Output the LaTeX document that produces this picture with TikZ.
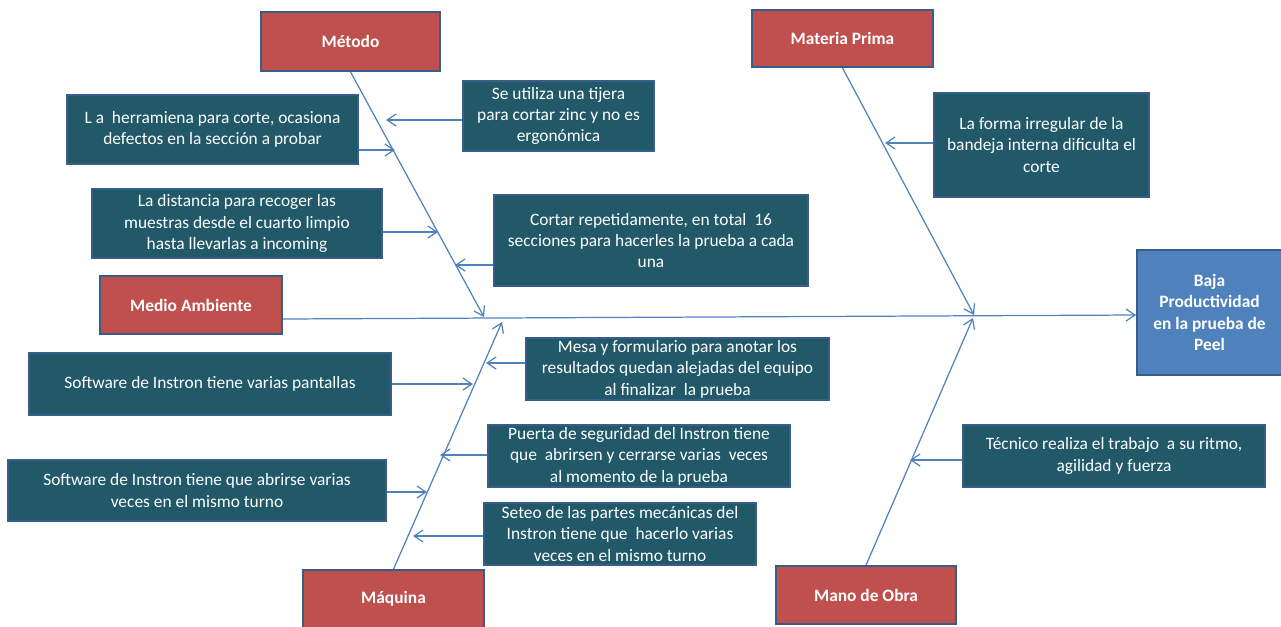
\documentclass[tikz,border=0pt]{standalone}
\usepackage{fontspec}
\setmainfont{Carlito}
\usepackage{tikz}
\usetikzlibrary{arrows.meta}
\definecolor{rojocausa}{HTML}{C0504D}
\definecolor{bordeazul}{HTML}{385D8A}
\definecolor{tealsub}{HTML}{215968}
\definecolor{azulefecto}{HTML}{4F81BD}
\definecolor{linea}{HTML}{4F81BD}
\newcommand{\letra}{\fontsize{9.9}{12.2}\selectfont}
\tikzstyle{causa} = [rectangle, minimum width = 3.6cm, minimum height = 1.16cm,
  text centered, draw = bordeazul, line width = 1pt, fill = rojocausa,
  text = white, font = \letra\bfseries]
\tikzstyle{subcausa} = [rectangle, minimum height = 1.24cm, inner ysep = 0pt,
  align = center, draw = bordeazul, line width = 1pt, fill = tealsub,
  text = white, font = \letra]
\tikzstyle{efecto} = [rectangle, minimum width = 2.9cm, minimum height = 2.5cm,
  align = center, draw = bordeazul, line width = 1pt, fill = azulefecto,
  text = white, font = \letra\bfseries]
\tikzstyle{flecha} = [draw = linea, line width = 0.7pt,
  -{Straight Barb[length = 1.8mm, width = 2.4mm]}]

\begin{document}
\begin{tikzpicture}[x = 0.02cm, y = -0.02cm]
  \useasboundingbox (0,0) rectangle (1281,626);

  % causas principales
  \node (metodo) [causa, minimum width = 3.58cm, minimum height = 1.18cm] at (350.5,41.5) {Método};
  \node (materia) [causa, minimum width = 3.62cm, minimum height = 1.14cm] at (842.5,38.5) {Materia Prima};
  \node (medio) [causa, minimum width = 3.64cm] at (191,305) {Medio Ambiente};
  \node (maquina) [causa, minimum width = 3.62cm] at (393.5,599) {Máquina};
  \node (mano) [causa] at (866,595) {Mano de Obra};
  \node (baja) [efecto] at (1209.5,312.5) {Baja\\Productividad\\en la prueba de\\Peel};

  % subcausas
  \node (herr) [subcausa, minimum width = 5.82cm, minimum height = 1.38cm] at (212.5,129.5)
    {L a\ \ herramiena para corte, ocasiona\\defectos en la sección a probar};
  \node (tijera) [subcausa, minimum width = 3.82cm, minimum height = 1.4cm] at (558.5,116)
    {Se utiliza una tijera\\para cortar zinc y no es\\ergonómica};
  \node (distancia) [subcausa, minimum width = 5.8cm, minimum height = 1.38cm] at (237,223.5)
    {La distancia para recoger las\\muestras desde el cuarto limpio\\hasta llevarlas a incoming};
  \node (cortar) [subcausa, minimum width = 6.28cm, minimum height = 1.82cm] at (651,240.5)
    {Cortar repetidamente, en total\ \ 16\\secciones para hacerles la prueba a cada\\una};
  \node (forma) [subcausa, minimum width = 4.3cm, minimum height = 2.08cm] at (1041.5,145)
    {La forma irregular de la\\bandeja interna dificulta el\\corte};
  \node (pantallas) [subcausa, minimum width = 7.24cm] at (210,384)
    {Software de Instron tiene varias pantallas};
  \node (mesa) [subcausa, minimum width = 6.06cm] at (677.5,369)
    {Mesa y formulario para anotar los\\resultados quedan alejadas del equipo\\al finalizar\ \ la prueba};
  \node (puerta) [subcausa, minimum width = 6.04cm] at (639,456)
    {Puerta de seguridad del Instron tiene\\que\ \ abrirsen y cerrarse varias\ \ veces\\al momento de la prueba};
  \node (abrirse) [subcausa, minimum width = 7.56cm, minimum height = 1.22cm] at (197,490.5)
    {Software de Instron tiene que abrirse varias\\veces en el mismo turno};
  \node (seteo) [subcausa, minimum width = 5.44cm] at (620,534)
    {Seteo de las partes mecánicas del\\Instron tiene que\ \ hacerlo varias\\veces en el mismo turno};
  \node (tecnico) [subcausa, minimum width = 6.04cm] at (1114,456)
    {Técnico realiza el trabajo\ \ a su ritmo,\\agilidad y fuerza};

  % puntas sobre las espinas
  \coordinate (c1) at (484,317);
  \coordinate (c2) at (974,315);
  \coordinate (c3) at (502,322);
  \coordinate (c4) at (973,318);
  \coordinate (p1) at (395,150);
  \coordinate (p2) at (386,120);
  \coordinate (p3) at (438,232);
  \coordinate (p4) at (455,265);
  \coordinate (p5) at (885,143);
  \coordinate (p6) at (473,384);
  \coordinate (p7) at (486,363);
  \coordinate (p8) at (440,455);
  \coordinate (p9) at (427,492);
  \coordinate (p10) at (413,536);
  \coordinate (p11) at (910,460);

  \draw [flecha] ([yshift = -0.28cm]medio.east) -- ([yshift = -0.05cm]baja.west);
  \draw [flecha] (metodo.south) -- (c1);
  \draw [flecha] (materia.south) -- (c2);
  \draw [flecha] (maquina.north) -- (c3);
  \draw [flecha] (mano.north) -- (c4);

  \draw [flecha] (herr.east |- p1) -- (p1);
  \draw [flecha] (tijera.west |- p2) -- (p2);
  \draw [flecha] (distancia.east |- p3) -- (p3);
  \draw [flecha] (cortar.west |- p4) -- (p4);
  \draw [flecha] (forma.west |- p5) -- (p5);
  \draw [flecha] (pantallas.east |- p6) -- (p6);
  \draw [flecha] (mesa.west |- p7) -- (p7);
  \draw [flecha] (puerta.west |- p8) -- (p8);
  \draw [flecha] (abrirse.east |- p9) -- (p9);
  \draw [flecha] (seteo.west |- p10) -- (p10);
  \draw [flecha] (tecnico.west |- p11) -- (p11);
\end{tikzpicture}
\end{document}
